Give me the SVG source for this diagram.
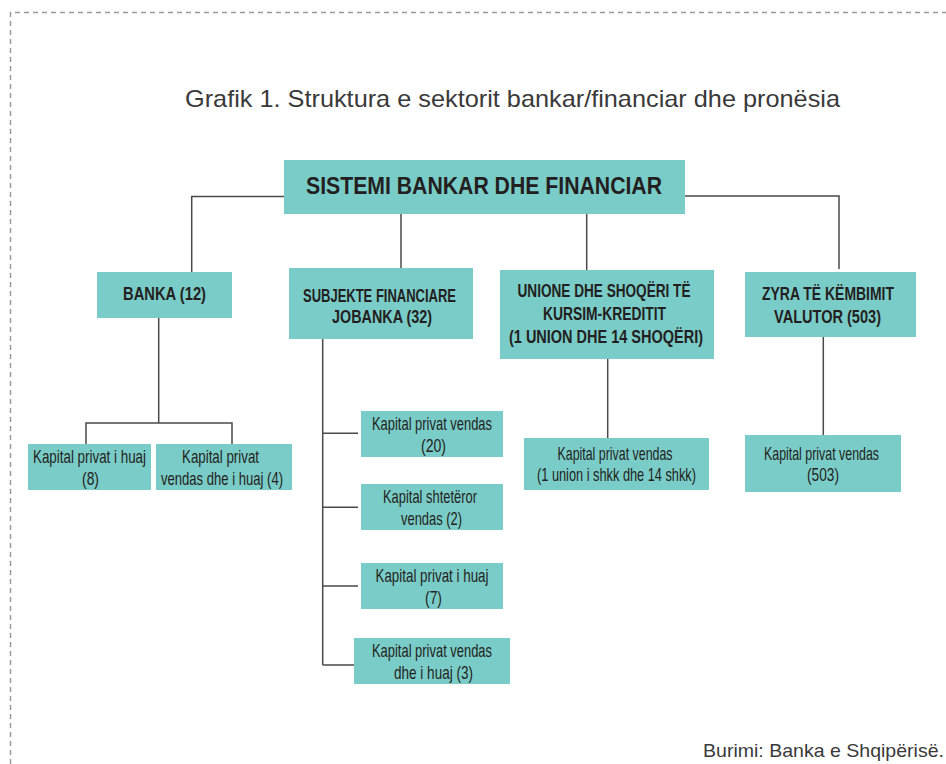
<svg xmlns="http://www.w3.org/2000/svg" width="946" height="764" viewBox="0 0 946 764">
<style>
.box{fill:#7accc8}
.h{font-family:"Liberation Sans Narrow","Liberation Sans",sans-serif;font-weight:bold;fill:#231f20;text-anchor:middle}
.s{font-family:"Liberation Sans Narrow","Liberation Sans",sans-serif;font-size:18.5px;fill:#231f20;text-anchor:middle}
.c{fill:none;stroke:#4a4a4a;stroke-width:1.5}
.t{font-family:"Liberation Sans",sans-serif;fill:#3a3a3a}
</style>
<rect width="946" height="764" fill="#fff"/>
<path d="M10.5 764 V12.5 H946" fill="none" stroke="#9a9a9a" stroke-width="1.5" stroke-dasharray="5 4"/>
<text class="t" x="185" y="107" font-size="24" textLength="655" lengthAdjust="spacingAndGlyphs">Grafik 1. Struktura e sektorit bankar/financiar dhe pronësia</text>
<text class="t" x="703" y="757" font-size="19" textLength="241" lengthAdjust="spacingAndGlyphs">Burimi: Banka e Shqipërisë.</text>
<g id="connectors">
<path class="c" d="M284 196.5 H191.7 V272"/>
<path class="c" d="M685 196 H839 V269"/>
<path class="c" d="M401 214 V268"/>
<path class="c" d="M586.7 214 V270"/>
<path class="c" d="M158.7 318 V423 M86 444 V423 H232 V444"/>
<path class="c" d="M322.7 339 V665 M322.7 433.3 H358 M322.7 507.3 H358 M322.7 586 H358 M322.7 665 H354"/>
<path class="c" d="M607.7 359 V438"/>
<path class="c" d="M823.3 337 V435"/>
</g>
<g id="root">
<rect class="box" x="284" y="160" width="401" height="54"/>
<text class="h" x="484" y="194" font-size="23.5" textLength="356" lengthAdjust="spacingAndGlyphs">SISTEMI BANKAR DHE FINANCIAR</text>
</g>
<g id="banka">
<rect class="box" x="97" y="272" width="135" height="46"/>
<text class="h" x="164.5" y="300" font-size="18.5" textLength="83" lengthAdjust="spacingAndGlyphs">BANKA (12)</text>
</g>
<g id="subjekte">
<rect class="box" x="289" y="268" width="184" height="71"/>
<text class="h" x="379.5" y="302" font-size="18.5" textLength="153" lengthAdjust="spacingAndGlyphs">SUBJEKTE FINANCIARE</text>
<text class="h" x="382" y="323" font-size="18.5" textLength="100" lengthAdjust="spacingAndGlyphs">JOBANKA (32)</text>
</g>
<g id="unione">
<rect class="box" x="500" y="270" width="214" height="89"/>
<text class="h" x="604" y="297" font-size="18.5" textLength="173" lengthAdjust="spacingAndGlyphs">UNIONE DHE SHOQËRI TË</text>
<text class="h" x="604.5" y="320" font-size="18.5" textLength="123" lengthAdjust="spacingAndGlyphs">KURSIM-KREDITIT</text>
<text class="h" x="606" y="343" font-size="18.5" textLength="194" lengthAdjust="spacingAndGlyphs">(1 UNION DHE 14 SHOQËRI)</text>
</g>
<g id="zyra">
<rect class="box" x="745" y="272" width="171" height="65"/>
<text class="h" x="828" y="300" font-size="18.5" textLength="132" lengthAdjust="spacingAndGlyphs">ZYRA TË KËMBIMIT</text>
<text class="h" x="827.5" y="323" font-size="18.5" textLength="107" lengthAdjust="spacingAndGlyphs">VALUTOR (503)</text>
</g>
<g id="banka-huaj">
<rect class="box" x="28" y="444" width="123" height="46"/>
<text class="s" x="89.5" y="463" textLength="113" lengthAdjust="spacingAndGlyphs">Kapital privat i huaj</text>
<text class="s" x="90.5" y="484.5" textLength="17" lengthAdjust="spacingAndGlyphs">(8)</text>
</g>
<g id="banka-vendas-huaj">
<rect class="box" x="156" y="444" width="136" height="46"/>
<text class="s" x="220.5" y="463" textLength="77" lengthAdjust="spacingAndGlyphs">Kapital privat</text>
<text class="s" x="222" y="484.5" textLength="122" lengthAdjust="spacingAndGlyphs">vendas dhe i huaj (4)</text>
</g>
<g id="sub-vendas">
<rect class="box" x="361" y="411" width="142" height="46"/>
<text class="s" x="432" y="430" textLength="120" lengthAdjust="spacingAndGlyphs">Kapital privat vendas</text>
<text class="s" x="433.5" y="452" textLength="25" lengthAdjust="spacingAndGlyphs">(20)</text>
</g>
<g id="sub-shteteror">
<rect class="box" x="361" y="484" width="142" height="46"/>
<text class="s" x="430" y="503" textLength="94" lengthAdjust="spacingAndGlyphs">Kapital shtetëror</text>
<text class="s" x="431.5" y="525" textLength="61" lengthAdjust="spacingAndGlyphs">vendas (2)</text>
</g>
<g id="sub-huaj">
<rect class="box" x="361" y="563" width="142" height="46"/>
<text class="s" x="432" y="582" textLength="113" lengthAdjust="spacingAndGlyphs">Kapital privat i huaj</text>
<text class="s" x="433.5" y="604" textLength="17" lengthAdjust="spacingAndGlyphs">(7)</text>
</g>
<g id="sub-vendas-huaj">
<rect class="box" x="354" y="638" width="156" height="46"/>
<text class="s" x="432" y="657" textLength="120" lengthAdjust="spacingAndGlyphs">Kapital privat vendas</text>
<text class="s" x="433.5" y="679" textLength="79" lengthAdjust="spacingAndGlyphs">dhe i huaj (3)</text>
</g>
<g id="unione-vendas">
<rect class="box" x="524" y="438" width="185" height="52"/>
<text class="s" x="615" y="459.5" textLength="115" lengthAdjust="spacingAndGlyphs">Kapital privat vendas</text>
<text class="s" x="616.5" y="481" textLength="159" lengthAdjust="spacingAndGlyphs">(1 union i shkk dhe 14 shkk)</text>
</g>
<g id="zyra-vendas">
<rect class="box" x="745" y="435" width="156" height="57"/>
<text class="s" x="821.5" y="459.5" textLength="115" lengthAdjust="spacingAndGlyphs">Kapital privat vendas</text>
<text class="s" x="823" y="481" textLength="32" lengthAdjust="spacingAndGlyphs">(503)</text>
</g>
</svg>
